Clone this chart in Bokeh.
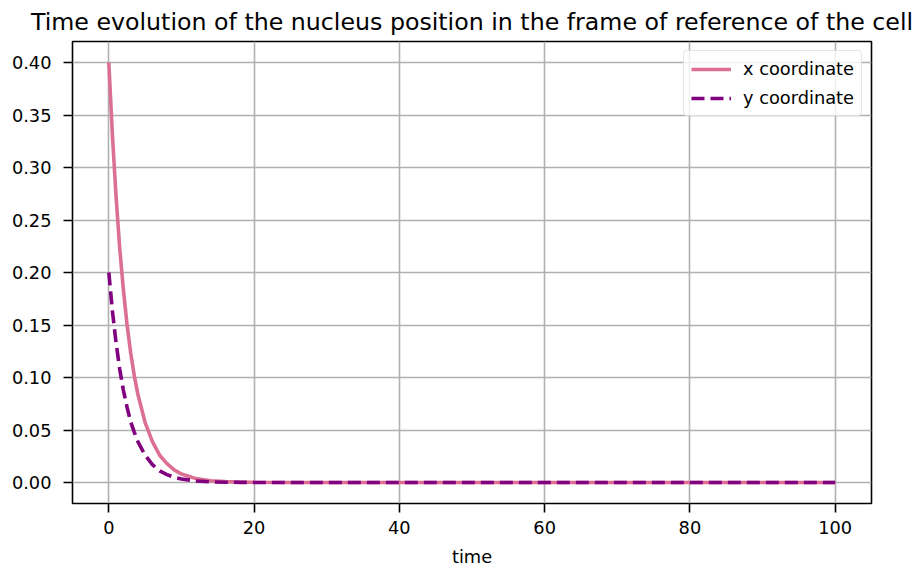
import numpy as np
from bokeh.plotting import figure
from bokeh.models import FixedTicker, NumeralTickFormatter, Legend, LegendItem, Range1d
from bokeh.embed import file_html
from bokeh.resources import INLINE

# time samples and read-off values
time = [0, 0.5, 1, 1.5, 2, 2.5, 3, 3.5, 4, 5, 6, 7, 8, 9, 10, 12, 14, 16, 18, 20,
        25, 30, 40, 50, 60, 70, 80, 90, 100]
x_coord = [0.400, 0.330, 0.272, 0.223, 0.184, 0.151, 0.124, 0.102, 0.084, 0.057,
           0.039, 0.026, 0.018, 0.012, 0.0081, 0.0037, 0.0017, 0.0008, 0.0004, 0.0002,
           0.00002, 0, 0, 0, 0, 0, 0, 0, 0]
y_coord = [0.200, 0.163, 0.133, 0.108, 0.088, 0.072, 0.058, 0.048, 0.039, 0.026,
           0.017, 0.011, 0.0075, 0.005, 0.0033, 0.0015, 0.0006, 0.0003, 0.0001, 0.00005,
           0, 0, 0, 0, 0, 0, 0, 0, 0]
x_ticks = [0, 20, 40, 60, 80, 100]
y_ticks = [0.0, 0.05, 0.10, 0.15, 0.20, 0.25, 0.30, 0.35, 0.40]

FONT = "DejaVu Sans"

p = figure(frame_width=799, frame_height=462, output_backend="svg", toolbar_location=None,
           x_range=Range1d(-5, 105), y_range=Range1d(-0.02, 0.42),
           min_border_left=72, min_border_right=49, min_border_top=40, min_border_bottom=10,
           title="Time evolution of the nucleus position in the frame of reference of the cell")
p.title.align = "center"
p.title.text_font = FONT
p.title.text_font_size = "23.7px"
p.title.text_font_style = "normal"
p.title.text_color = "black"
p.title.standoff = 11

p.background_fill_color = "white"
p.border_fill_color = "white"
p.outline_line_color = "black"
p.outline_line_width = 1.6

for ax in (p.xaxis[0], p.yaxis[0]):
    ax.axis_line_color = None
    ax.major_tick_out = 9
    ax.major_tick_in = 0
    ax.major_tick_line_width = 1.6
    ax.major_tick_line_color = "black"
    ax.minor_tick_line_color = None
    ax.major_label_text_font = FONT
    ax.major_label_text_font_size = "17.8px"
    ax.major_label_text_color = "black"
    ax.axis_label_text_font = FONT
    ax.axis_label_text_font_size = "17.8px"
    ax.axis_label_text_font_style = "normal"
    ax.axis_label_text_color = "black"

p.xaxis[0].major_label_standoff = 8
p.yaxis[0].major_label_standoff = 12
p.xaxis[0].ticker = FixedTicker(ticks=x_ticks)
p.yaxis[0].ticker = FixedTicker(ticks=y_ticks)
p.yaxis[0].formatter = NumeralTickFormatter(format="0.00")
p.xaxis[0].axis_label = "time"
p.xaxis[0].axis_label_standoff = 9

p.xgrid.ticker = FixedTicker(ticks=x_ticks)
p.ygrid.ticker = FixedTicker(ticks=y_ticks)
for g in (p.xgrid[0], p.ygrid[0]):
    g.grid_line_color = "#b0b0b0"
    g.grid_line_width = 1.6

r1 = p.line(time, x_coord, line_color="#DB7093", line_width=3.6)
r2 = p.line(time, y_coord, line_color="#800080", line_width=3.6, line_dash="13 6")

legend = Legend(items=[LegendItem(label="x coordinate", renderers=[r1]),
                       LegendItem(label="y coordinate", renderers=[r2])],
                location="top_right")
legend.label_text_font = FONT
legend.label_text_font_size = "17.8px"
legend.label_text_color = "black"
legend.glyph_width = 40
legend.label_standoff = 12
legend.spacing = 8
legend.padding = 7
legend.margin = 9
legend.border_line_color = "#cccccc"
legend.border_line_width = 1.5
legend.background_fill_alpha = 0.8
if "border_radius" in legend.properties():
    legend.border_radius = 4
p.add_layout(legend)

open("out.html", "w").write(file_html(p, INLINE))
